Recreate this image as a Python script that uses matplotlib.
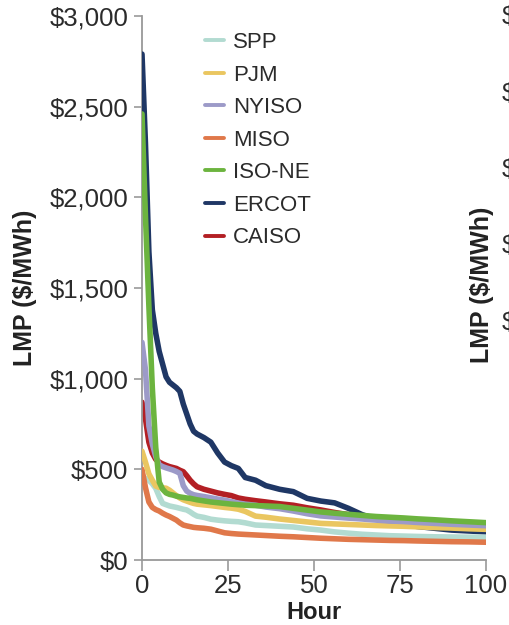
import numpy as np
import matplotlib
matplotlib.use("Agg")
import matplotlib.pyplot as plt

plt.rcParams['font.family'] = ['Liberation Sans', 'DejaVu Sans']

# hours (sorted price duration curve, top 100 hours)
hours = [0, 1, 2, 3, 4, 5, 6, 7, 8, 9, 10, 11, 12, 13, 14, 15, 16, 18, 20, 22, 24,
         26, 28, 30, 33, 36, 40, 44, 48, 52, 56, 60, 64, 68, 72, 76, 80, 85, 90, 95, 100]

spp = [460, 450, 440, 420, 395, 350, 312, 305, 298, 294, 290, 285, 280, 276, 265, 252, 242,
       235, 225, 220, 216, 213, 211, 205, 193, 190, 186, 182, 172, 165, 155, 148, 142, 138,
       134, 132, 130, 128, 127, 126, 125]
pjm = [600, 540, 475, 440, 408, 400, 398, 396, 385, 370, 355, 342, 332, 325, 318, 312, 308,
       304, 300, 295, 290, 286, 280, 268, 242, 236, 226, 218, 210, 202, 199, 196, 193, 190,
       188, 186, 183, 179, 176, 172, 169]
nyiso = [1200, 1050, 740, 640, 570, 525, 515, 508, 502, 496, 488, 478, 410, 380, 368, 360, 356,
         350, 343, 336, 330, 322, 314, 308, 302, 292, 283, 270, 255, 243, 237, 231, 226, 220,
         215, 212, 207, 202, 197, 193, 189]
miso = [500, 400, 320, 290, 278, 270, 258, 248, 240, 230, 220, 205, 193, 188, 184, 180, 178,
        175, 170, 160, 150, 146, 143, 141, 138, 135, 131, 128, 124, 120, 117, 114, 112, 110,
        108, 107, 105, 103, 101, 100, 98]
isone = [2460, 1900, 1400, 950, 620, 430, 390, 370, 362, 358, 352, 348, 345, 342, 340, 336, 332,
         326, 320, 316, 312, 308, 305, 302, 300, 298, 295, 285, 275, 265, 258, 252, 246, 240,
         236, 232, 227, 222, 216, 211, 206]
ercot = [2790, 2300, 1700, 1380, 1250, 1150, 1080, 1010, 980, 965, 950, 930, 860, 805, 750, 710,
         695, 675, 650, 590, 540, 520, 505, 455, 440, 410, 390, 377, 340, 325, 315, 285, 250,
         225, 210, 195, 185, 175, 165, 160, 155]
caiso = [870, 780, 650, 590, 555, 540, 530, 522, 515, 510, 505, 495, 487, 465, 440, 420, 404,
         390, 380, 370, 362, 355, 342, 335, 327, 320, 310, 302, 288, 276, 262, 250, 240, 233,
         227, 222, 217, 212, 207, 203, 198]

names = ['SPP', 'PJM', 'NYISO', 'MISO', 'ISO-NE', 'ERCOT', 'CAISO']
series = [spp, pjm, nyiso, miso, isone, ercot, caiso]
colors = ['#b2dbd1', '#eac660', '#9c9ac8', '#e0784a', '#6cb43f', '#1f3765', '#b31f24']
zorders = [4, 5, 5, 4, 6, 3, 2]

yticks = [0, 500, 1000, 1500, 2000, 2500, 3000]
ytick_labels = ['$0', '$500', '$1,000', '$1,500', '$2,000', '$2,500', '$3,000']
xticks = [0, 25, 50, 75, 100]

fig = plt.figure(figsize=(5.1, 6.25), dpi=100)
ax = fig.add_axes([142 / 510, 65 / 625, 344 / 510, 544 / 625])

for name, vals, c, z in zip(names, series, colors, zorders):
    ax.plot(hours, vals, color=c, lw=4.0, label=name, zorder=z,
            solid_joinstyle='round', solid_capstyle='round')

ax.set_xlim(0, 100)
ax.set_ylim(0, 3000)
ax.set_xticks(xticks)
ax.set_yticks(yticks)
ax.set_yticklabels(ytick_labels)

grey = '#999999'
for s in ['top', 'right']:
    ax.spines[s].set_visible(False)
for s in ['left', 'bottom']:
    ax.spines[s].set_color(grey)
    ax.spines[s].set_linewidth(1.3)
ax.tick_params(axis='y', length=6, width=1.2, color=grey, labelsize=18.5,
               labelcolor='#2b2b2b', pad=4)
ax.tick_params(axis='x', length=8, width=1.2, color=grey, labelsize=18.5,
               labelcolor='#2b2b2b', pad=2)

ax.set_xlabel('Hour', fontsize=17, fontweight='bold', color='#222222', labelpad=2)
ax.set_ylabel('LMP ($/MWh)', fontsize=18, fontweight='bold', color='#222222', labelpad=9)

leg = ax.legend(loc='upper left', bbox_to_anchor=(205 / 510, 1 - 32 / 625),
                bbox_transform=fig.transFigure, frameon=False, fontsize=16,
                handlelength=0.85, handletextpad=0.42, labelspacing=0.52,
                borderpad=0, borderaxespad=0)
for h in leg.get_lines():
    h.set_linewidth(2.8)
for t in leg.get_texts():
    t.set_color('#2b2b2b')

# partial neighbouring panel at the right edge
fig.text(482 / 510, 1 - 285 / 625, 'LMP ($/MWh)', rotation=90, fontsize=18,
         fontweight='bold', color='#222222', ha='center', va='center')
for yp in [17, 94, 170, 246, 323]:
    fig.text(502 / 510, 1 - yp / 625, '$', fontsize=18.5, color='#2b2b2b',
             ha='left', va='center')

fig.savefig('out.png', dpi=100)
